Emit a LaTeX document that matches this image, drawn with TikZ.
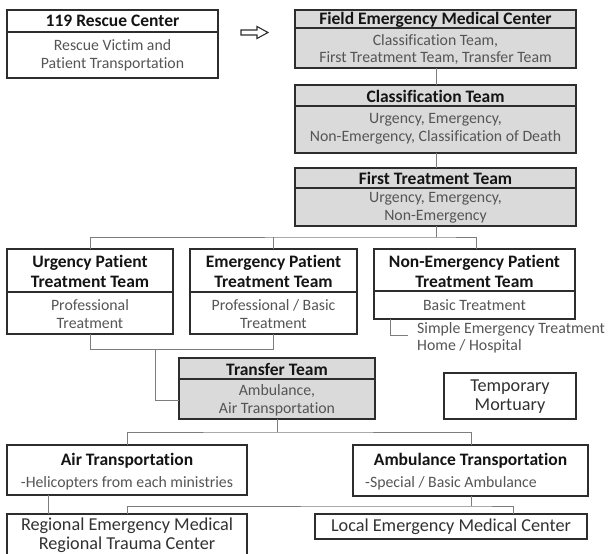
\documentclass[tikz,border=0pt]{standalone}
\usepackage{fontspec}
\setmainfont{Carlito}[Ligatures=NoCommon]
\definecolor{framec}{RGB}{45,45,45}
\definecolor{boxgray}{RGB}{218,218,218}
\definecolor{linec}{RGB}{125,125,125}
\definecolor{bodyc}{RGB}{85,85,85}
\definecolor{titlec}{RGB}{20,20,20}
\definecolor{bigc}{RGB}{50,50,50}
\tikzset{
  frame/.style={draw=framec, line width=1.3pt, inner sep=0pt, outer sep=0pt, anchor=north west},
  gframe/.style={frame, fill=boxgray},
  divider/.style={draw=framec, line width=1.3pt},
  conn/.style={draw=linec, line width=1pt},
  ttl/.style={inner sep=0pt, align=center, text=titlec, font=\fontsize{17.5}{20}\selectfont\bfseries},
  bdy/.style={inner sep=0pt, align=center, text=bodyc, font=\fontsize{15.8}{17.5}\selectfont},
  big/.style={inner sep=0pt, align=center, text=bigc, font=\fontsize{18.2}{19}\selectfont},
  arrowshape/.style={draw=framec, line width=1.1pt, fill=white, line join=miter},
}
\begin{document}
\begin{tikzpicture}[x=1pt, y=-1pt]
\useasboundingbox (0,0) rectangle (609,553);
\fill[white] (0,0) rectangle (609,553);
\clip (0,0) rectangle (609,553);

% ---------- boxes ----------
\node[frame,  minimum width=211pt, minimum height=68pt] (rescue) at (7,10) {};
\node[gframe, minimum width=281pt, minimum height=58pt] (field) at (295,10) {};
\node[gframe, minimum width=281pt, minimum height=68pt] (class) at (295,85) {};
\node[gframe, minimum width=281pt, minimum height=58pt] (first) at (295,168) {};
\node[frame,  minimum width=166pt, minimum height=85pt] (urg) at (7,249) {};
\node[frame,  minimum width=167pt, minimum height=85pt] (emg) at (190,249) {};
\node[frame,  minimum width=201pt, minimum height=70pt] (nonem) at (374,249) {};
\node[gframe, minimum width=196pt, minimum height=61pt] (transfer) at (179,358) {};
\node[frame,  minimum width=132pt, minimum height=46pt] (mortuary) at (444,373) {};
\node[frame,  minimum width=240pt, minimum height=50pt] (air) at (7,445) {};
\node[frame,  minimum width=235pt, minimum height=51pt] (amb) at (353,445) {};
\node[frame,  minimum width=240pt, minimum height=44pt] (reg) at (7,514) {};
\node[frame,  minimum width=272pt, minimum height=25pt] (local) at (315,514) {};

% ---------- dividers ----------
\draw[divider] (rescue.west |- 0,32) -- (rescue.east |- 0,32);
\draw[divider] (field.west |- 0,28) -- (field.east |- 0,28);
\draw[divider] (class.west |- 0,106) -- (class.east |- 0,106);
\draw[divider] (first.west |- 0,188) -- (first.east |- 0,188);
\draw[divider] (urg.west |- 0,292) -- (urg.east |- 0,292);
\draw[divider] (emg.west |- 0,292) -- (emg.east |- 0,292);
\draw[divider] (nonem.west |- 0,291) -- (nonem.east |- 0,291);
\draw[divider] (transfer.west |- 0,379) -- (transfer.east |- 0,379);

% ---------- texts ----------
\node[ttl] (rescueT) at (112.5,21) {119 Rescue Center};
\node[bdy] (rescueB) at (112.5,55.5) {Rescue Victim and\\Patient Transportation};
\node[ttl] (fieldT) at (435.5,19.5) {Field Emergency Medical Center};
\node[bdy] (fieldB) at (435.5,49.5) {Classification Team,\\First Treatment Team, Transfer Team};
\node[ttl] (classT) at (435.5,96) {Classification Team};
\node[bdy] (classB) at (435.5,129) {Urgency, Emergency,\\Non-Emergency, Classification of Death};
\node[ttl] (firstT) at (435.5,178.5) {First Treatment Team};
\node[bdy] (firstB) at (435.5,208) {Urgency, Emergency,\\Non-Emergency};
\node[ttl] (urgT) at (90,271) {Urgency Patient\\Treatment Team};
\node[bdy] (urgB) at (90,314) {Professional\\Treatment};
\node[ttl] (emgT) at (273.5,271) {Emergency Patient\\Treatment Team};
\node[bdy] (emgB) at (273.5,314) {Professional / Basic\\Treatment};
\node[ttl] (nonemT) at (474.5,271) {Non-Emergency Patient\\Treatment Team};
\node[bdy] (nonemB) at (474.5,305.5) {Basic Treatment};
\node[bdy, anchor=west, align=left] (simple) at (417,338) {Simple Emergency Treatment\\Home / Hospital};
\node[ttl] (transferT) at (277,369) {Transfer Team};
\node[bdy] (transferB) at (277,400.5) {Ambulance,\\Air Transportation};
\node[big] (mortT) at (510,397) {Temporary\\Mortuary};
\node[ttl] (airT) at (127,461) {Air Transportation};
\node[bdy] (airB) at (127,483) {-Helicopters from each ministries};
\node[ttl] (ambT) at (470.5,461) {Ambulance Transportation};
\node[bdy, anchor=west] (ambB) at (365,483) {-Special / Basic Ambulance};
\node[big] (regT) at (127,535.5) {Regional Emergency Medical\\Regional Trauma Center};
\node[big] (localT) at (451,526.5) {Local Emergency Medical Center};

% ---------- arrow ----------
\draw[arrowshape] (241,30) -- (257,30) -- (257,26.5) -- (268,32.5) -- (257,38.5) -- (257,35) -- (241,35) -- cycle;

% ---------- connectors ----------
\coordinate (bus1) at (436,237);
\coordinate (j2) at (155,349);
\coordinate (tin) at (179,400);
\coordinate (bus3) at (277,432);
\coordinate (bus4) at (471,506);
\coordinate (simpleend) at (408,335);

\draw[conn] (field.south -| 436,0) -- (class.north -| 436,0);
\draw[conn] (class.south -| 436,0) -- (first.north -| 436,0);
\draw[conn] (first.south -| 436,0) -- (bus1);
\draw[conn] (urg.north) |- (bus1) -| ([xshift=1.5pt]nonem.north);
\draw[conn] (emg.north) -- (emg.north |- bus1);
\draw[conn] (urg.south) -- ++(0,15) -| (emg.south);
\draw[conn] (j2) |- (tin);
\draw[conn] ([xshift=16pt]nonem.south west) |- (simpleend);
\draw[conn] (transfer.south) -- (bus3);
\draw[conn] (air.north) |- (bus3) -| ([xshift=0.5pt]amb.north);
\draw[conn] ([xshift=41pt]air.south west) -- ([xshift=41pt]reg.north west);
\draw[conn] ([xshift=0.5pt]amb.south) -- (bus4);
\draw[conn] (reg.north) |- (bus4) -| ([xshift=62pt]local.north);
\end{tikzpicture}
\end{document}
